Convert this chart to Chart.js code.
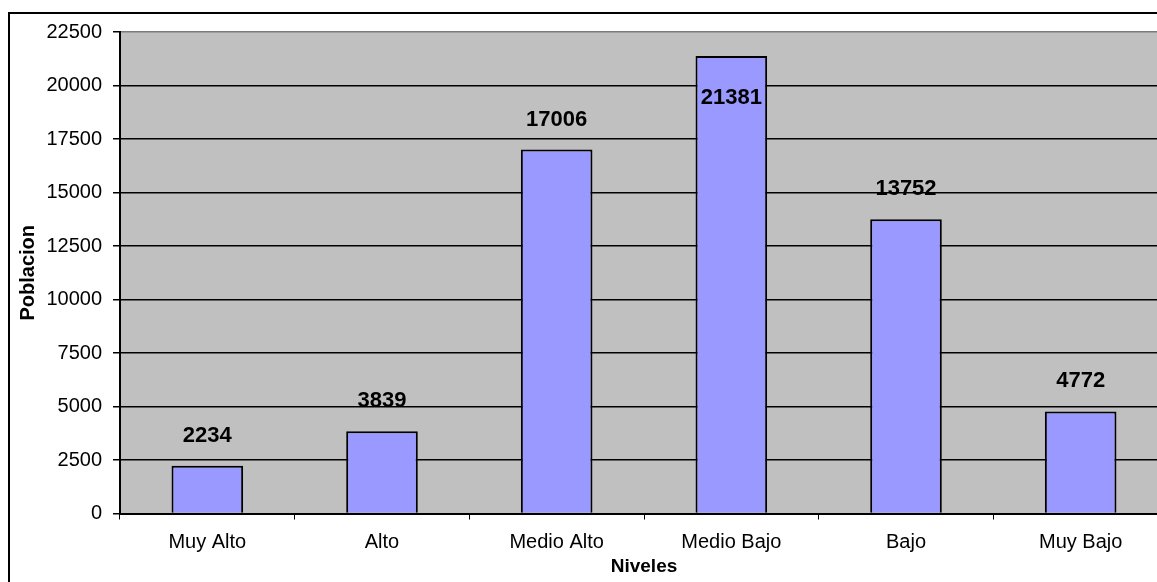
<!DOCTYPE html>
<html>
<head>
<meta charset="utf-8">
<script src="https://cdn.jsdelivr.net/npm/chart.js@4.4.1/dist/chart.umd.min.js"></script>
<style>
  html, body { margin: 0; padding: 0; background: #fff; overflow: hidden; }
  #marco {
    position: absolute; left: 8px; top: 12px; width: 2000px; height: 2000px;
    border-left: 2px solid #000; border-top: 2px solid #000;
  }
  #myChart { position: absolute; left: 0; top: 0; }
</style>
</head>
<body>
<div id="marco"></div>
<canvas id="myChart" width="1200" height="582"></canvas>
<script>
// datos del grafico
const niveles = ['Muy Alto', 'Alto', 'Medio Alto', 'Medio Bajo', 'Bajo', 'Muy Bajo'];
const poblacion = [2234, 3839, 17006, 21381, 13752, 4772];
const yTicks = [0, 2500, 5000, 7500, 10000, 12500, 15000, 17500, 20000, 22500];

const fuente = "'Liberation Sans', Arial, sans-serif";

// fondo gris del area de trazado
const fondoGris = {
    id: 'fondoGris',
    beforeDraw(chart) {
        const a = chart.chartArea;
        const ctx = chart.ctx;
        ctx.save();
        ctx.fillStyle = '#c0c0c0';
        ctx.fillRect(a.left, a.top, a.right - a.left, a.bottom - a.top);
        ctx.restore();
    }
};

// etiquetas de valor encima de las barras
const etiquetas = {
    id: 'etiquetas',
    afterDatasetsDraw(chart) {
        const ctx = chart.ctx;
        const meta = chart.getDatasetMeta(0);
        ctx.save();
        ctx.font = 'bold 22px ' + fuente;
        ctx.fillStyle = '#000';
        ctx.textAlign = 'center';
        ctx.textBaseline = 'middle';
        meta.data.forEach((bar, i) => {
            let y = bar.y - 30;
            if (y - 12 < chart.chartArea.top + 8) y = bar.y + 42; // no cabe arriba
            ctx.fillText(String(poblacion[i]), bar.x, y);
        });
        ctx.restore();
    }
};

function makeChart() {
    const ctx = document.getElementById('myChart').getContext('2d');
    return new Chart(ctx, {
        type: 'bar',
        data: {
            labels: niveles,
            datasets: [{
                label: 'Poblacion',
                data: poblacion,
                backgroundColor: '#9999ff',
                borderColor: '#000',
                borderWidth: 2,
                barPercentage: 0.41,
                categoryPercentage: 1
            }]
        },
        options: {
            responsive: false,
            animation: false,
            devicePixelRatio: 1,
            layout: { padding: { top: 32, left: 0, right: 32, bottom: 0 } },
            plugins: { legend: { display: false }, tooltip: { enabled: false } },
            scales: {
                x: {
                    afterFit(scale) { scale.height = 68.5; },
                    grid: {
                        display: true, drawOnChartArea: false, drawTicks: true,
                        tickLength: 6, offset: true, color: '#000', tickColor: '#000'
                    },
                    border: { display: true, color: '#000', width: 2 },
                    ticks: { color: '#000', font: { family: fuente, size: 20 }, padding: 11, maxRotation: 0 },
                    title: {
                        display: true, text: 'Niveles', color: '#000',
                        font: { family: fuente, size: 19, weight: 'bold' },
                        padding: { top: 0, bottom: 4 }
                    }
                },
                y: {
                    min: 0,
                    max: 22500,
                    afterFit(scale) { scale.width = 120; },
                    afterBuildTicks(scale) { scale.ticks = yTicks.map(v => ({ value: v })); },
                    grid: {
                        color: c => (c.tick && c.tick.value === 22500 ? '#7a7a7a' : '#000'),
                        tickColor: '#000',
                        lineWidth: 1.5,
                        tickLength: 7
                    },
                    border: { display: true, color: '#000', width: 2 },
                    ticks: {
                        color: '#000', font: { family: fuente, size: 20 }, padding: 11,
                        callback: v => String(v)
                    },
                    title: {
                        display: true, text: 'Poblacion', color: '#000',
                        font: { family: fuente, size: 20, weight: 'bold' },
                        padding: { top: 16, bottom: 0 }
                    }
                }
            }
        },
        plugins: [fondoGris, etiquetas]
    });
}

makeChart();
</script>
</body>
</html>
